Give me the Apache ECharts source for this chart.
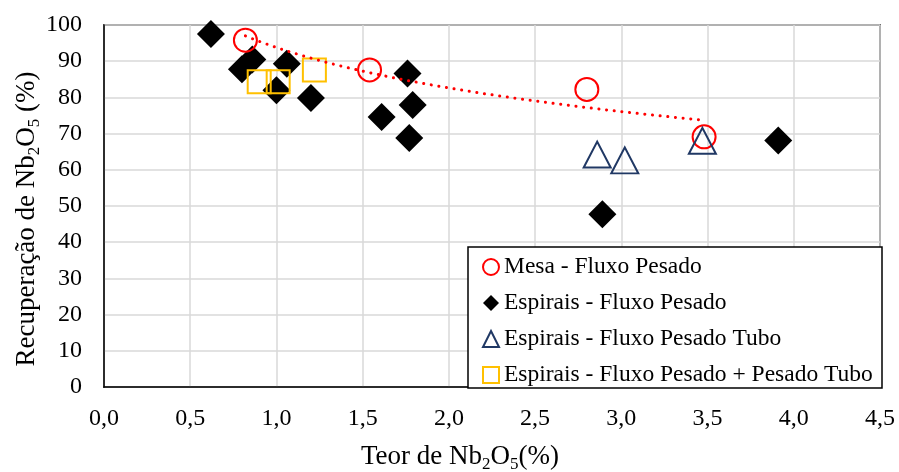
<!DOCTYPE html>
<html>
<head>
<meta charset="utf-8">
<script src="https://cdn.jsdelivr.net/npm/echarts@6/dist/echarts.min.js"></script>
<style>html,body{margin:0;padding:0;background:#fff;}#c{width:899px;height:472px;}</style>
</head>
<body>
<div id="c"></div>
<script>
// ---- data ----
const mesaX = [0.82, 1.54, 2.80, 3.48];
const mesaY = [95.8, 87.6, 82.2, 69.1];

const espX = [0.62, 0.80, 0.86, 1.06, 1.00, 1.20, 1.76, 1.61, 1.79, 1.77, 2.89, 3.91];
const espY = [97.5, 87.8, 90.5, 89.3, 82.0, 79.8, 86.6, 74.6, 77.9, 68.8, 47.7, 68.1];

const tuboX = [2.86, 3.02, 3.47];
const tuboY = [64.2, 62.6, 68.0];

const mixX = [0.90, 1.01, 1.22];
const mixY = [84.3, 84.3, 87.6];

const seriesNames = ['Mesa - Fluxo Pesado', 'Espirais - Fluxo Pesado', 'Espirais - Fluxo Pesado Tubo', 'Espirais - Fluxo Pesado + Pesado Tubo'];
const xTicks = ['0,0','0,5','1,0','1,5','2,0','2,5','3,0','3,5','4,0','4,5'];
const yTicks = ['0','10','20','30','40','50','60','70','80','90','100'];

// logarithmic trendline (least squares fit of the Mesa points, as in the source chart)
function logFit(xs, ys) {
  const lx = xs.map(Math.log);
  const n = xs.length;
  const mx = lx.reduce((a, b) => a + b, 0) / n;
  const my = ys.reduce((a, b) => a + b, 0) / n;
  let sxy = 0, sxx = 0;
  for (let i = 0; i < n; i++) { sxy += (lx[i] - mx) * (ys[i] - my); sxx += (lx[i] - mx) ** 2; }
  const b = sxy / sxx, a = my - b * mx;
  const x0 = Math.min(...xs), x1 = Math.max(...xs);
  const pts = [];
  const N = 60;
  for (let i = 0; i <= N; i++) { const x = x0 + (x1 - x0) * i / N; pts.push([x, a + b * Math.log(x)]); }
  return pts;
}
const trend = logFit(mesaX, mesaY);
const zip = (xs, ys) => xs.map((x, i) => [x, ys[i]]);

const FONT = '"Liberation Serif", "Times New Roman", serif';
const chart = echarts.init(document.getElementById('c'), null, {renderer: 'canvas'});

const richSub = {
  n: {fontFamily: FONT, fontSize: 27, color: '#000', lineHeight: 32, verticalAlign: 'middle'},
  s: {fontFamily: FONT, fontSize: 17, color: '#000', lineHeight: 32, verticalAlign: 'bottom'}
};

chart.setOption({
  backgroundColor: '#fff',
  animation: false,
  grid: {left: 104, right: 19, top: 25, bottom: 85, show: true, borderColor: '#000', borderWidth: 1.5, backgroundColor: 'transparent'},
  xAxis: {
    type: 'value', min: 0, max: 4.5, interval: 0.5,
    axisLine: {show: true, onZero: false, lineStyle: {color: '#000', width: 1.5}},
    axisTick: {show: false},
    splitLine: {show: true, lineStyle: {color: '#d9d9d9', width: 1.5}},
    axisLabel: {fontFamily: FONT, fontSize: 24, color: '#000', margin: 20,
      formatter: (v) => xTicks[Math.round(v / 0.5)]}
  },
  yAxis: {
    type: 'value', min: 0, max: 100, interval: 10,
    axisLine: {show: true, lineStyle: {color: '#000', width: 1.5}},
    axisTick: {show: false},
    splitLine: {show: true, lineStyle: {color: '#d9d9d9', width: 1.5}},
    axisLabel: {fontFamily: FONT, fontSize: 24, color: '#000', margin: 22,
      formatter: (v) => yTicks[Math.round(v / 10)]}
  },
  legend: {
    orient: 'vertical', left: 477, top: 250, itemGap: 12, itemWidth: 16, itemHeight: 16,
    z: 20, backgroundColor: 'transparent',
    textStyle: {fontFamily: FONT, fontSize: 23.5, color: '#000'},
    data: seriesNames.map(n => ({name: n}))
  },
  graphic: [
    {type: 'rect', z: 10, shape: {x: 468, y: 247, width: 414, height: 141},
     style: {fill: '#fff', stroke: '#000', lineWidth: 1.5}},
    {type: 'text', z: 10, x: 460, y: 457,
     style: {text: '{n|Teor de Nb}{s|2}{n|O}{s|5}{n|(%)}', rich: richSub, align: 'center', verticalAlign: 'middle'}},
    {type: 'text', z: 10, x: 27, y: 219, rotation: Math.PI / 2,
     style: {text: '{n|Recuperação de Nb}{s|2}{n|O}{s|5}{n| (%)}', rich: richSub, align: 'center', verticalAlign: 'middle'}}
  ],
  series: [
    {name: seriesNames[0], type: 'scatter', data: zip(mesaX, mesaY), symbol: 'circle', symbolSize: 23, z: 4,
     itemStyle: {color: 'transparent', borderColor: '#ff0000', borderWidth: 2, opacity: 1}},
    {name: seriesNames[1], type: 'scatter', data: zip(espX, espY), symbol: 'diamond', symbolSize: 28, z: 2,
     itemStyle: {color: '#000', borderColor: '#000', borderWidth: 0, opacity: 1}},
    {name: seriesNames[2], type: 'scatter', data: zip(tuboX, tuboY), symbol: 'triangle', symbolSize: [27, 26], z: 5,
     itemStyle: {color: 'transparent', borderColor: '#203864', borderWidth: 2, opacity: 1}},
    {name: seriesNames[3], type: 'scatter', data: zip(mixX, mixY), symbol: 'rect', symbolSize: 23, z: 3,
     itemStyle: {color: 'transparent', borderColor: '#ffc000', borderWidth: 2, opacity: 1}},
    {name: 'trend', type: 'line', data: trend, showSymbol: false, symbol: 'none', smooth: false, z: 6,
     lineStyle: {color: '#ff0000', width: 3, type: [0.1, 7.6], cap: 'round'}, silent: true}
  ]
});
</script>
</body>
</html>
